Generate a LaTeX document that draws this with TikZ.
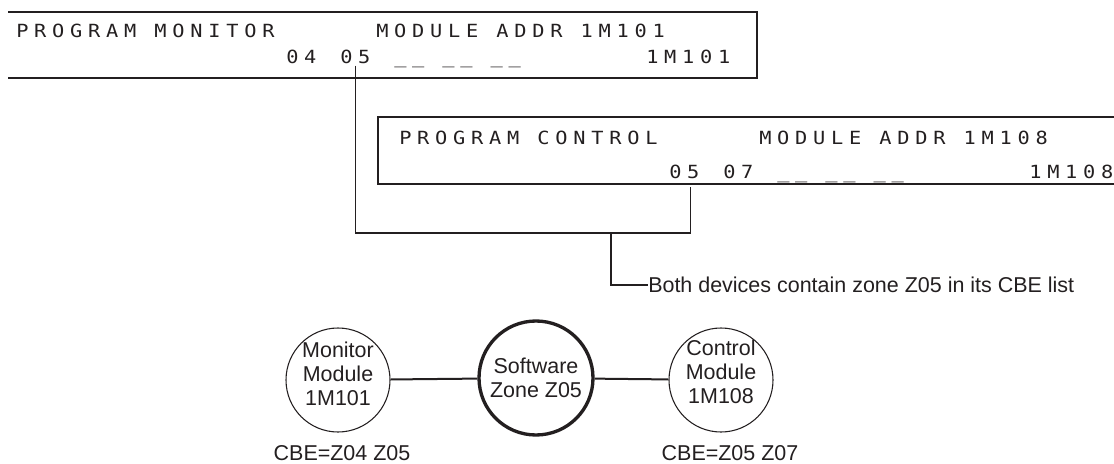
\documentclass[tikz,border=0pt]{standalone}
\usepackage{fontspec}
\setmainfont{Liberation Sans}
\newfontfamily\lcdfont[FakeStretch=1.12, LetterSpace=31.8]{DejaVu Sans Mono}
\usepackage{tikz}
\usetikzlibrary{positioning}
\definecolor{Ink}{RGB}{35,31,32}
\newcommand\lcdset{\lcdfont\fontsize{13.6}{16}\selectfont\spaceskip 13.5pt\relax}

\begin{document}
\begin{tikzpicture}[
  x=0.75pt, y=-0.75pt,
  lcd/.style={
    anchor=base west, inner sep=0pt, text=Ink,
    font=\lcdset},
  frame/.style={draw=Ink, line width=1.5pt},
  wire/.style={draw=Ink, line width=1.1pt},
  link/.style={draw=Ink, line width=1.5pt},
  ring/.style={
    circle, draw=Ink, line width=0.8pt,
    minimum size=78pt, inner sep=0pt},
  hub/.style={ring,
    line width=2.5pt, minimum size=85.5pt},
  inside/.style={
    align=center, text=Ink, inner sep=0pt,
    font=\fontsize{16.1}{18}\selectfont},
  tag/.style={
    inner sep=0pt, text=Ink,
    font=\fontsize{16.1}{18}\selectfont}
]
\useasboundingbox (0,0) rectangle (1114,464);

% monitor module display
\draw[frame] (8,12) -- (757,12) -- (757,78) -- (8,78);
\node[lcd] (monA) at (16,37) {PROGRAM MONITOR};
\node[lcd] (monB) at (376,37) {MODULE ADDR 1M101};
\node[lcd] (m04) at (286,63) {04};
\node[lcd] (m05) at (340,63) {05};
\node[lcd] (mgap) at (394,63) {\_\_ \_\_ \_\_};
\node[lcd] (maddr) at (646,63) {1M101};

% control module display
\draw[frame] (1114,117) -- (378,117) -- (378,184) -- (1114,184);
\node[lcd] (ctlA) at (399,144) {PROGRAM CONTROL};
\node[lcd] (ctlB) at (759,144) {MODULE ADDR 1M108};
\node[lcd] (c05) at (669,178) {05};
\node[lcd] (c07) at (723,178) {07};
\node[lcd] (cgap) at (777,178) {\_\_ \_\_ \_\_};
\node[lcd] (caddr) at (1029,178) {1M108};

% shared zone callout
\coordinate (tee) at (611,233);
\node[tag, anchor=west] (note) at (648,285)
  {Both devices contain zone Z05 in its CBE list};
\draw[wire] ([yshift=-1.5pt]m05.south) |- (tee)
  -| ([xshift=4.5pt, yshift=-6pt]c05.south);
\draw[wire] (tee) |- (note.west);

% zone diagram
\node[ring, label={[inside, yshift=4.5pt]center:Monitor\\Module\\1M101}]
  (mon) at (338,380) {};
\node[hub, label={[inside]center:Software\\Zone Z05}]
  (sw) at (536,378) {};
\node[ring, label={[inside, yshift=6pt]center:Control\\Module\\1M108}]
  (ctl) at (721,380) {};
\draw[link] (mon) -- (sw);
\draw[link] (sw) -- (ctl);

\node[tag] (cbeA) at (342,453) {CBE=Z04 Z05};
\node[tag] (cbeB) at (730,453) {CBE=Z05 Z07};

\end{tikzpicture}
\end{document}
